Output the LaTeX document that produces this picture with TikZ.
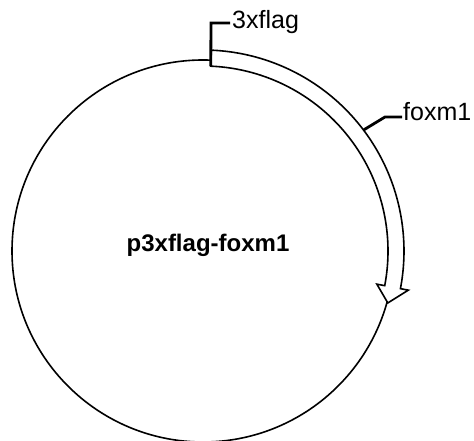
\documentclass[tikz,border=0pt]{standalone}
\usepackage{fontspec}
\setmainfont{Liberation Sans}
\begin{document}
\begin{tikzpicture}[x=1pt,y=1pt,
  backbone/.style={line width=1.6pt,draw=black},
  featarrow/.style={line width=1.6pt,draw=black,fill=white,line join=miter},
  leader/.style={line width=2.8pt,draw=black},
  featlabel/.style={font=\fontsize{25}{30}\selectfont,anchor=base west,inner sep=0pt},
  namelabel/.style={font=\fontsize{24}{28}\selectfont\bfseries,anchor=base,inner sep=0pt}]
\useasboundingbox (0,0) rectangle (474,441);
\coordinate (C) at (203,190);
% backbone circle
\draw[backbone] (C) circle[radius=191];
% foxm1 feature arrow
\draw[featarrow] ([shift={(87.6:201)}]C) arc[start angle=87.6,end angle=-10.8,radius=201]
  -- ([shift={(-10.8:209)}]C) -- ([shift={(-15.7:192)}]C) -- ([shift={(-10.8:177)}]C)
  -- ([shift={(-10.8:185)}]C) arc[start angle=-10.8,end angle=87.6,radius=185] -- cycle;
% 3xflag leader
\coordinate (flagbase) at ([shift={(87.6:185)}]C);
\coordinate (flagtop) at (211,418);
\coordinate (flagend) at (230,418);
\draw[leader,line join=miter] (flagbase) -- (flagtop) -- (flagend);
\node[featlabel] (flag) at (232,412) {3xflag};
% foxm1 leader
\coordinate (foxbase) at ([shift={(37:201)}]C);
\coordinate (foxknee) at (385,324);
\coordinate (foxend) at (402,324);
\draw[leader,line join=round] (foxbase) -- (foxknee) -- (foxend);
\node[featlabel] (fox) at (403,320) {foxm1};
% plasmid name
\node[namelabel] (name) at (208,189) {p3xflag-foxm1};
\end{tikzpicture}
\end{document}
